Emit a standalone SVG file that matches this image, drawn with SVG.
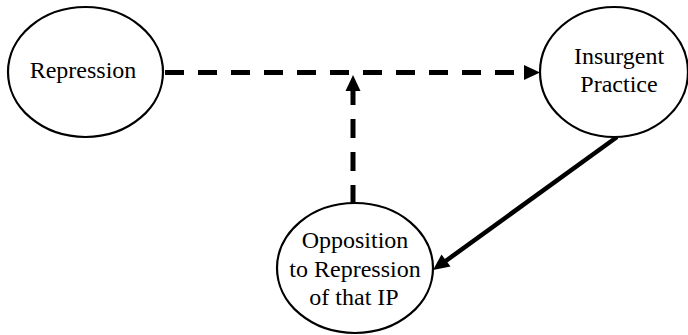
<svg xmlns="http://www.w3.org/2000/svg" width="688" height="335" viewBox="0 0 688 335">
<style>
.node ellipse{fill:#fff;stroke:#000;stroke-width:2.2}
.node text{font-family:"Liberation Serif","Times New Roman",serif;font-size:24px;fill:#000;text-anchor:middle}
.dash{fill:none;stroke:#000;stroke-width:5;stroke-dasharray:19 14}
.solid{fill:none;stroke:#000;stroke-width:4.5}
.head{fill:#000}
</style>
<rect width="688" height="335" fill="#fff"/>
<g id="connectors">
<line class="dash" x1="163" y1="72.5" x2="526" y2="72.5" stroke-dasharray="19 14" stroke-dashoffset="-2"/>
<polygon class="head" points="540,72.5 524,65 524,80"/>
<line class="dash" x1="353" y1="204" x2="353" y2="89"/>
<polygon class="head" points="353,75 345.5,91 360.5,91"/>
<line class="solid" x1="617" y1="137" x2="445" y2="261.5"/>
<polygon class="head" points="433,270 441.5,254.5 450.5,266.5"/>
</g>
<g id="repression" class="node">
<ellipse cx="85.5" cy="72" rx="77.5" ry="65"/>
<text x="83" y="78">Repression</text>
</g>
<g id="insurgent" class="node">
<ellipse cx="614" cy="72" rx="74" ry="65"/>
<text x="619" y="64">Insurgent</text>
<text x="619" y="92">Practice</text>
</g>
<g id="opposition" class="node">
<ellipse cx="355" cy="268" rx="78" ry="65"/>
<text x="355" y="248">Opposition</text>
<text x="355" y="277">to Repression</text>
<text x="354" y="305">of that IP</text>
</g>
</svg>
